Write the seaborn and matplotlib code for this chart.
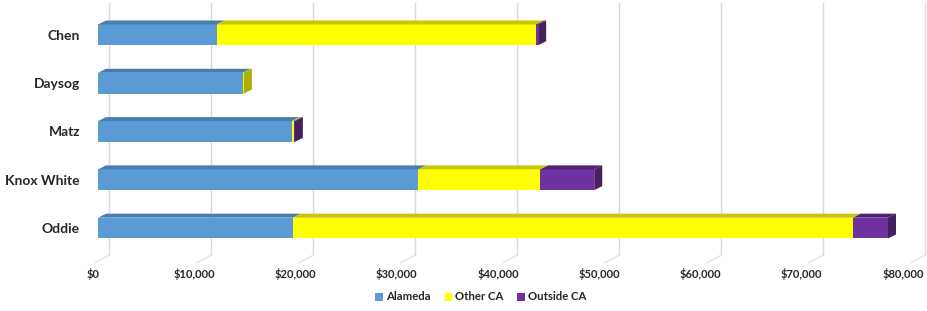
import numpy as np
import pandas as pd
import matplotlib
matplotlib.use('Agg')
import matplotlib.pyplot as plt
from matplotlib.patches import Polygon, Patch
from matplotlib.transforms import ScaledTranslation
import seaborn as sns

# Data
candidates = ['Chen', 'Daysog', 'Matz', 'Knox White', 'Oddie']
alameda = [11650, 14200, 19000, 31400, 19100]
other_ca = [31300, 100, 200, 11950, 54900]
outside_ca = [200, 0, 100, 5300, 3450]
series_names = ['Alameda', 'Other CA', 'Outside CA']
xticks = [0, 10000, 20000, 30000, 40000, 50000, 60000, 70000, 80000]

front_colors = ['#5B9BD5', '#FFFF00', '#7030A0']
top_colors = ['#4A7DAE', '#C8C800', '#4F2272']
side_colors = ['#41709C', '#AFAF00', '#44205F']

sns.set_style('white')
plt.rcParams['font.family'] = ['Lato', 'DejaVu Sans']
plt.rcParams['font.weight'] = 'bold'

df = pd.DataFrame({'cand': candidates, 'Alameda': alameda,
                   'Other CA': other_ca, 'Outside CA': outside_ca})
df['c1'] = df['Alameda']
df['c2'] = df['c1'] + df['Other CA']
df['c3'] = df['c2'] + df['Outside CA']

W, H = 928, 311
fig = plt.figure(figsize=(W / 100, H / 100), dpi=100)
ax_left, ax_right, ax_top, ax_bot = 98, 914, 3, 258
ax = fig.add_axes([ax_left / W, 1 - ax_bot / H, (ax_right - ax_left) / W, (ax_bot - ax_top) / H])

bar_h = 0.43
# layered stacked bars, widest first
for col, c in zip(['c3', 'c2', 'c1'], front_colors[::-1]):
    sns.barplot(data=df, x=col, y='cand', orient='h', color=c, width=bar_h,
                ax=ax, saturation=1, linewidth=0, zorder=3)

ax.set_xlim(0, 80000)
ax.set_ylim(4.62, -0.66)

# 3D depth offsets in data units (about 8 px right, 4 px up)
px_x = 80000 / (ax_right - ax_left)
px_y = 5.28 / (ax_bot - ax_top)
dx, dy = 8 * px_x, 4 * px_y

for i in range(len(candidates)):
    starts = [0, df['c1'][i], df['c2'][i]]
    ends = [df['c1'][i], df['c2'][i], df['c3'][i]]
    top = i - bar_h / 2
    bot = i + bar_h / 2
    last = None
    for k in range(3):
        if ends[k] - starts[k] <= 0:
            continue
        last = k
        ax.add_patch(Polygon([(starts[k], top), (ends[k], top), (ends[k] + dx, top - dy),
                              (starts[k] + dx, top - dy)], closed=True,
                             facecolor=top_colors[k], edgecolor='none', zorder=4))
    e = ends[last]
    ax.add_patch(Polygon([(e, top), (e + dx, top - dy), (e + dx, bot - dy), (e, bot)],
                         closed=True, facecolor=side_colors[last], edgecolor='none', zorder=4))

# back-wall gridlines, shifted by the depth, with slanted floor tails
y0 = ax.get_ylim()[0]
for t in xticks:
    ax.plot([t + 1.4 * dx, t + 1.4 * dx], [y0 - 0.06, ax.get_ylim()[1]],
            color='#D9D9D9', lw=1, zorder=1, clip_on=False)
    ax.plot([t + 1.4 * dx, t - 0.4 * dx], [y0 - 0.06, y0 + 0.1],
            color='#E3E3E3', lw=1, zorder=1, clip_on=False)

ax.set_xticks(xticks)
ax.set_xticklabels([f'${t:,.0f}' for t in xticks], fontsize=8, fontweight='bold')
ax.tick_params(axis='x', length=0, pad=7)
# front-floor labels sit a little left of the bar plane
for t, lab in zip(xticks, ax.get_xticklabels()):
    shift = (-5 - 6 * t / 80000) / 100
    lab.set_transform(lab.get_transform() + ScaledTranslation(shift, 0, fig.dpi_scale_trans))
ax.set_yticks(range(len(candidates)))
ax.set_yticklabels(candidates, fontsize=10, fontweight='bold')
ax.tick_params(axis='y', length=0, pad=13)
ax.set_xlabel('')
ax.set_ylabel('')
for s in ax.spines.values():
    s.set_visible(False)

handles = [Patch(facecolor=c, edgecolor='none') for c in front_colors]
fig.legend(handles, series_names, loc='center', bbox_to_anchor=(481 / W, 1 - 297 / H),
           ncol=3, frameon=False, handlelength=0.7, handleheight=0.7,
           handletextpad=0.25, columnspacing=1.2, prop={'weight': 'bold', 'size': 8.2})

fig.savefig('out.png', dpi=100)
